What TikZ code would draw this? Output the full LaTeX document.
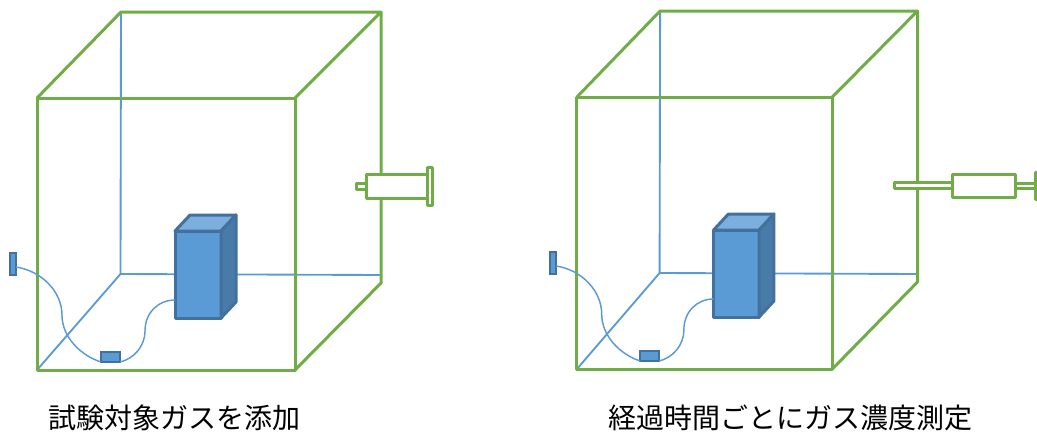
\documentclass[tikz,border=0pt]{standalone}
\usepackage{fontspec}
\usepackage{xcolor}
\usepackage{tikz}
\usetikzlibrary{positioning,calc}
\newfontfamily\cjk{Noto Sans CJK JP}
\definecolor{wallgreen}{HTML}{70AD47}
\definecolor{backblue}{HTML}{5B9BD5}
\definecolor{blockedge}{HTML}{41719C}
\definecolor{blocktop}{HTML}{7CAFDE}
\definecolor{blockside}{HTML}{497BA8}
\tikzset{
  wall/.style={draw=wallgreen,line width=2.25pt,line join=round},
  syringe/.style={wall,fill=white},
  backline/.style={draw=backblue,line width=1.4pt},
  wire/.style={draw=backblue,line width=1.1pt},
  blockface/.style={draw=blockedge,line width=2.25pt,line join=round},
  sensor/.style={draw=blockedge,fill=backblue,line width=1.9pt,inner sep=0pt,outer sep=0pt},
  caption/.style={font=\cjk\fontsize{21}{25}\selectfont,text=black,inner sep=0pt}
}
% one chamber, the syringes are drawn on top afterwards
\newcommand{\drawchamber}[1]{
  \coordinate (#1back) at (120.5,274);
  \coordinate (#1wireout) at (16,267);
  \coordinate (#1wireblock) at (175,300);
  % back edges
  \draw[backline] (121,12) -- (#1back);
  \draw[backline] (#1back) -- (37,370);
  \draw[backline] (#1back) -- (381,275);
  % block
  \draw[blockface,fill=backblue] (175,231) rectangle (221,318);
  \draw[blockface,fill=blocktop] (175,231) -- (190,215) -- (236,215) -- (221,231) -- cycle;
  \draw[blockface,fill=blockside] (221,231) -- (236,215) -- (236,302) -- (221,318) -- cycle;
  % chamber walls
  \draw[wall] (37,98) rectangle (295,370);
  \draw[wall] (37,98) -- (121,12) -- (381,12) -- (295,98);
  \draw[wall] (381,12) -- (381,283) -- (295,370);
  % sensors and wires
  \node[sensor,minimum width=4.5pt,minimum height=16.5pt] (#1sensorout) at (13,264) {};
  \node[sensor,minimum width=14.25pt,minimum height=7.5pt] (#1sensorin) at (110.5,357) {};
  \draw[wire] (#1wireout) .. controls (42,271) and (62,292) .. (62,315)
    .. controls (62,338) and (82,356) .. (#1sensorin.south west);
  \draw[wire] (#1sensorin.south east) .. controls (133,359) and (145,347) .. (145,331)
    .. controls (145,313) and (158,300) .. (#1wireblock);
}
\begin{document}
\begin{tikzpicture}[x=0.75pt,y=-0.75pt]
  \useasboundingbox (0,0) rectangle (1037,432);

  \begin{scope}
    \drawchamber{a}
  \end{scope}
  \begin{scope}[shift={(540.3,-1)},xscale=0.99]
    \drawchamber{b}
  \end{scope}

  % left syringe
  \draw[syringe] (356.5,183.5) rectangle (366,189.5);
  \draw[syringe] (366,174.5) rectangle (428,198);
  \draw[syringe] (427.5,167.5) rectangle (432.5,205);

  % right syringe
  \draw[syringe] (1015,183.5) rectangle (1036,188.5);
  \draw[syringe] (894.5,182.5) rectangle (952,188);
  \draw[syringe] (952,174.5) rectangle (1015,197.5);
  \draw[syringe] (1035.5,172.5) rectangle (1042,199);

  \node[caption] (captionadd) at (174.5,418) {試験対象ガスを添加};
  \node[caption] (captionmeasure) at (790,418) {経過時間ごとにガス濃度測定};
\end{tikzpicture}
\end{document}
